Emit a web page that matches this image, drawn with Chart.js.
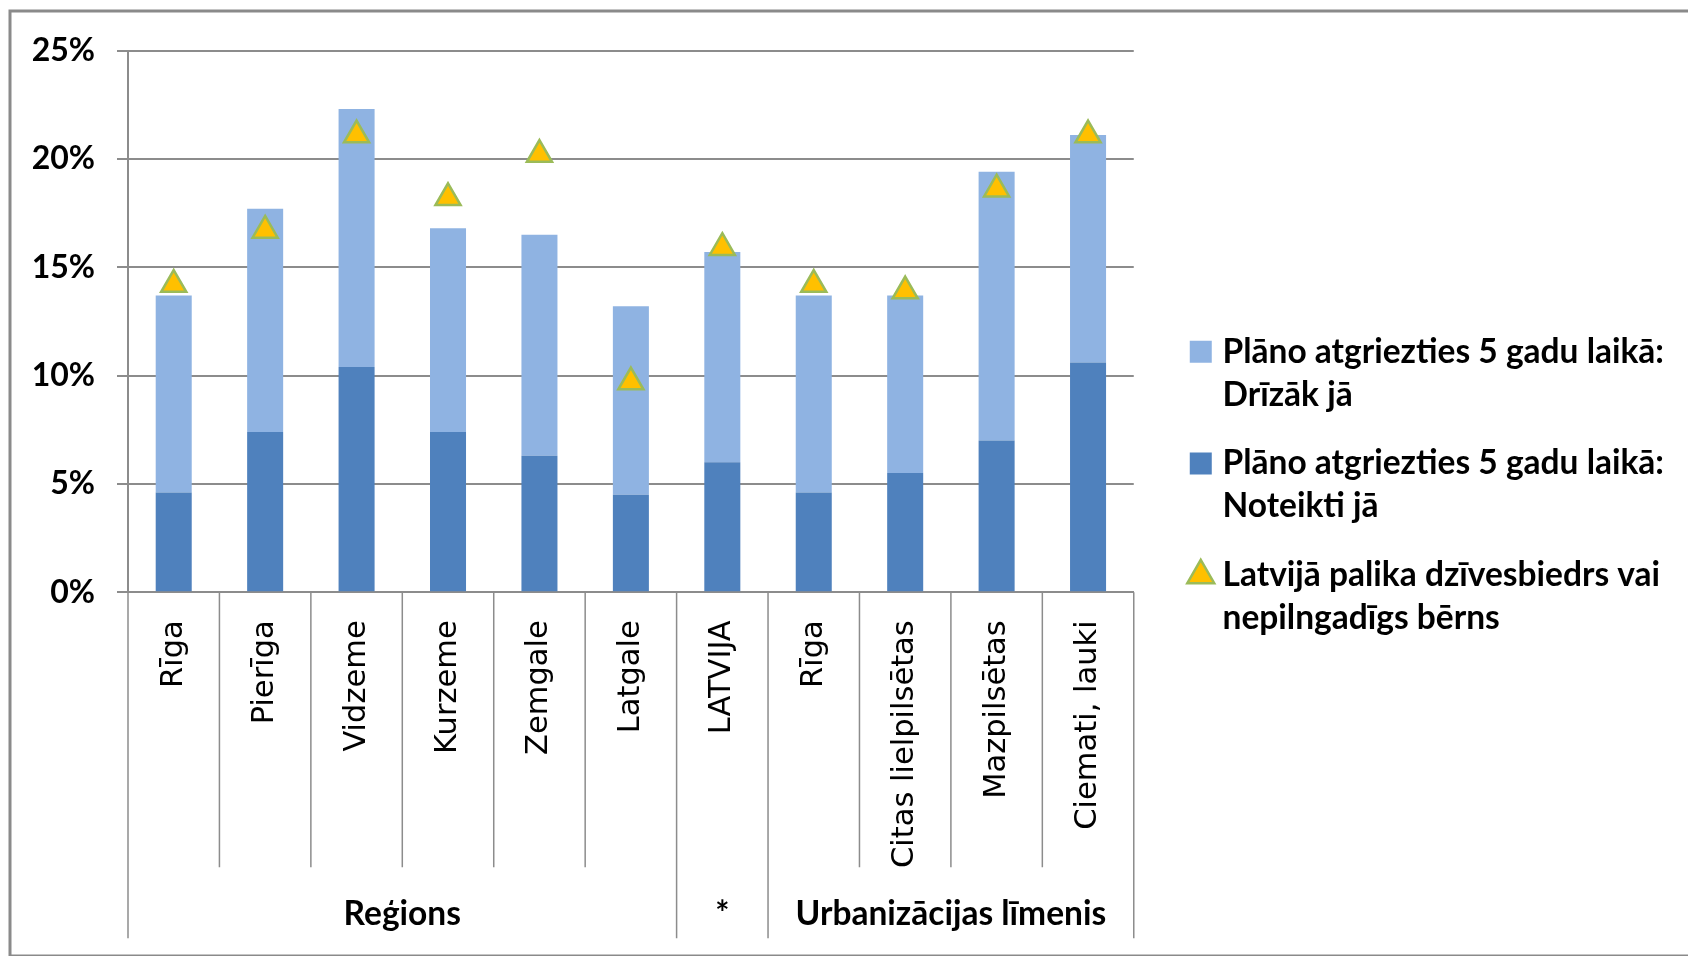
<!DOCTYPE html>
<html>
<head>
<meta charset="utf-8">
<title>Plāno atgriezties 5 gadu laikā</title>
<script src="https://cdn.jsdelivr.net/npm/chart.js@4.4.1/dist/chart.umd.min.js"></script>
<style>
    html, body { margin: 0; padding: 0; background: #fff; }
    #wrap { width: 1688px; height: 956px; }
</style>
</head>
<body>
<div id="wrap"><canvas id="myChart" width="1688" height="956"></canvas></div>
<script>
// categories on the x axis and their groups
const categories = ['Rīga', 'Pierīga', 'Vidzeme', 'Kurzeme', 'Zemgale', 'Latgale', 'LATVIJA', 'Rīga', 'Citas lielpilsētas', 'Mazpilsētas', 'Ciemati, lauki'];
const groupLabels = ['Reģions', '*', 'Urbanizācijas līmenis'];
const groupSizes = [6, 1, 4];

// values in %
const noteiktiJa = [4.6, 7.4, 10.4, 7.4, 6.3, 4.5, 6.0, 4.6, 5.5, 7.0, 10.6];
const drizakJa = [9.1, 10.3, 11.9, 9.4, 10.2, 8.7, 9.7, 9.1, 8.2, 12.4, 10.5];
const palikaLatvija = [14.2, 16.7, 21.1, 18.2, 20.2, 9.7, 15.9, 14.2, 13.9, 18.6, 21.1];

const yTicks = [0, 5, 10, 15, 20, 25];
const seriesLabels = [
    'Plāno atgriezties 5 gadu laikā:\nNoteikti jā',
    'Plāno atgriezties 5 gadu laikā:\nDrīzāk jā',
    'Latvijā palika dzīvesbiedrs vai\nnepilngadīgs bērns'
];
const legendRank = [1, 0, 2];

const gridColor = '#8c8c8c';
const mainFont = 'Lato';

// dividers + group names under the x axis, and the outer frame
const xDividers = {
    id: 'xDividers',
    afterDraw(chart) {
        const ctx = chart.ctx;
        const x = chart.scales.x;
        const step = x.width / categories.length;
        const edges = [0];
        groupSizes.forEach(n => edges.push(edges[edges.length - 1] + n));

        ctx.save();
        ctx.strokeStyle = gridColor;
        ctx.lineWidth = 1.5;
        for (let i = 0; i <= categories.length; i++) {
            const px = x.left + i * step;
            const len = edges.includes(i) ? 346 : 275;
            ctx.beginPath();
            ctx.moveTo(px, x.top);
            ctx.lineTo(px, x.top + len);
            ctx.stroke();
        }

        ctx.fillStyle = '#000';
        ctx.font = 'bold 33.5px ' + mainFont;
        ctx.textAlign = 'center';
        ctx.textBaseline = 'alphabetic';
        groupLabels.forEach((txt, g) => {
            const cx = x.left + (edges[g] + edges[g + 1]) / 2 * step;
            ctx.fillText(txt, cx, x.top + 333);
        });

        ctx.strokeStyle = '#8a8a8a';
        ctx.lineWidth = 3;
        ctx.strokeRect(10, 11, 1700, 945);
        ctx.restore();
    }
};

const ctx = document.getElementById('myChart');
const myChart = new Chart(ctx, {
    type: 'bar',
    data: {
        labels: categories,
        datasets: [{
            label: seriesLabels[0],
            data: noteiktiJa,
            backgroundColor: '#4F81BD',
            pointStyle: 'rect',
            barPercentage: 0.394,
            categoryPercentage: 1
        }, {
            label: seriesLabels[1],
            data: drizakJa,
            backgroundColor: '#8FB3E2',
            pointStyle: 'rect',
            barPercentage: 0.394,
            categoryPercentage: 1
        }, {
            type: 'line',
            label: seriesLabels[2],
            data: palikaLatvija,
            stack: 'spouse',
            order: -1,
            showLine: false,
            pointStyle: 'triangle',
            pointRadius: 14.5,
            pointHoverRadius: 14.5,
            backgroundColor: '#FFC000',
            borderColor: '#9BBB59',
            pointBackgroundColor: '#FFC000',
            pointBorderColor: '#9BBB59',
            borderWidth: 2.5,
            pointBorderWidth: 2.5
        }]
    },
    options: {
        responsive: false,
        animation: false,
        layout: {
            padding: { left: 10, top: 50.5, right: 14, bottom: 27 }
        },
        scales: {
            x: {
                stacked: true,
                grid: { display: false },
                border: { display: true, color: gridColor, width: 2 },
                ticks: {
                    autoSkip: false,
                    minRotation: 90,
                    maxRotation: 90,
                    padding: 20,
                    color: '#000',
                    font: { family: 'DejaVu Sans', size: 30.5 }
                },
                afterFit(scale) { scale.height = 956 - 27 - 592.3; }
            },
            y: {
                stacked: true,
                min: yTicks[0],
                max: yTicks[yTicks.length - 1],
                grid: { color: gridColor, lineWidth: 2, tickLength: 11 },
                border: { color: gridColor, width: 2 },
                ticks: {
                    stepSize: yTicks[1] - yTicks[0],
                    padding: 22,
                    color: '#000',
                    font: { family: mainFont, size: 32, weight: 'bold' },
                    callback: v => v + '%'
                },
                afterFit(scale) { scale.width = 118; }
            },
            gap: {
                type: 'linear',
                position: 'right',
                grid: { display: false },
                border: { display: false },
                ticks: { display: false },
                afterFit(scale) { scale.width = 36; }
            }
        },
        plugins: {
            tooltip: { enabled: false },
            legend: {
                position: 'right',
                align: 'center',
                maxWidth: 640,
                labels: {
                    usePointStyle: true,
                    boxWidth: 10,
                    boxHeight: 22,
                    padding: 26,
                    color: '#000',
                    font: { family: mainFont, size: 33.5, weight: 'bold', lineHeight: 1.28 },
                    sort: (a, b) => legendRank[a.datasetIndex] - legendRank[b.datasetIndex],
                    generateLabels(chart) {
                        const items = Chart.defaults.plugins.legend.labels.generateLabels(chart);
                        items.forEach(it => { it.text = it.text.split('\n'); });
                        return items;
                    }
                }
            }
        }
    },
    plugins: [xDividers]
});
</script>
</body>
</html>
